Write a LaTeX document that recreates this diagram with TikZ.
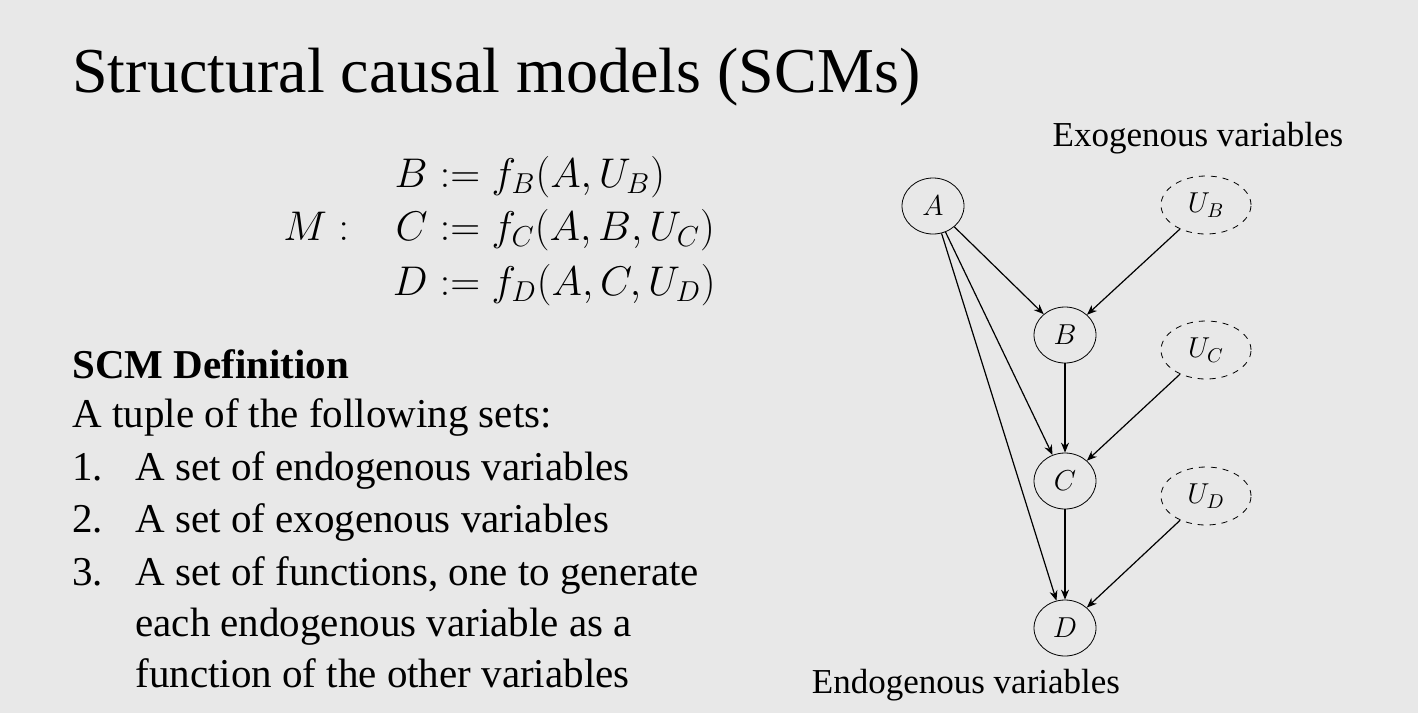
\documentclass[tikz,border=0pt]{standalone}
\usepackage{fontspec}
\setmainfont{Liberation Serif}
\usetikzlibrary{shapes.geometric,arrows.meta}
\begin{document}
\begin{tikzpicture}[x=0.5pt,y=-0.5pt,
  txt/.style={anchor=base west,inner sep=0,font=\fontsize{20.5}{22}\selectfont},
  eq/.style={anchor=base west,inner sep=0,font=\fontsize{19.5}{21}\selectfont},
  v/.style={draw,ellipse,minimum width=31pt,minimum height=28pt,inner sep=0,font=\fontsize{14.5}{16}\selectfont},
  u/.style={v,dashed,minimum width=45pt,minimum height=29pt},
  e/.style={-{Stealth[length=5pt,width=4pt]},semithick},
  lab/.style={inner sep=0,font=\fontsize{17.5}{19}\selectfont}]
\fill[black!9] (0,0) rectangle (1418,713);
\node[anchor=base west,inner sep=0,font=\fontsize{32}{34}\selectfont] (t) at (72,92) {Structural causal models (SCMs)};
\node[eq] (m) at (283,240) {$M:$};
\node[eq,anchor=base east] (l1) at (428,187) {$B$};
\node[eq] (r1) at (428,187) {${}:= f_B(A,U_B)$};
\node[eq,anchor=base east] (l2) at (428,240) {$C$};
\node[eq] (r2) at (428,240) {${}:= f_C(A,B,U_C)$};
\node[eq,anchor=base east] (l3) at (428,295) {$D$};
\node[eq] (r3) at (428,295) {${}:= f_D(A,C,U_D)$};
\node[txt,font=\fontsize{20.5}{22}\selectfont\bfseries] (h) at (72,378) {SCM Definition};
\node[txt] (s0) at (72,427) {A tuple of the following sets:};
\node[txt] (n1) at (72,480) {1.};
\node[txt] (s1) at (135,480) {A set of endogenous variables};
\node[txt] (n2) at (72,532) {2.};
\node[txt] (s2) at (135,532) {A set of exogenous variables};
\node[txt] (n3) at (72,585) {3.};
\node[txt] (s3) at (135,585) {A set of functions, one to generate};
\node[txt] (s4) at (135,636) {each endogenous variable as a};
\node[txt] (s5) at (135,687) {function of the other variables};
\node[v] (A) at (933,206) {$A$};
\node[v] (B) at (1065,335) {$B$};
\node[v] (C) at (1065,481) {$C$};
\node[v] (D) at (1065,628) {$D$};
\node[u] (UB) at (1206,205) {$U_B$};
\node[u] (UC) at (1206,350) {$U_C$};
\node[u] (UD) at (1206,496) {$U_D$};
\draw[e] (A) -- (B);
\draw[e] (A) -- (C);
\draw[e] (A) -- (D);
\draw[e] (B) -- (C);
\draw[e] (C) -- (D);
\draw[e] (UB) -- (B);
\draw[e] (UC) -- (C);
\draw[e] (UD) -- (D);
\node[lab] (ex) at (1198,138) {Exogenous variables};
\node[lab] (en) at (966,685) {Endogenous variables};
\end{tikzpicture}
\end{document}
